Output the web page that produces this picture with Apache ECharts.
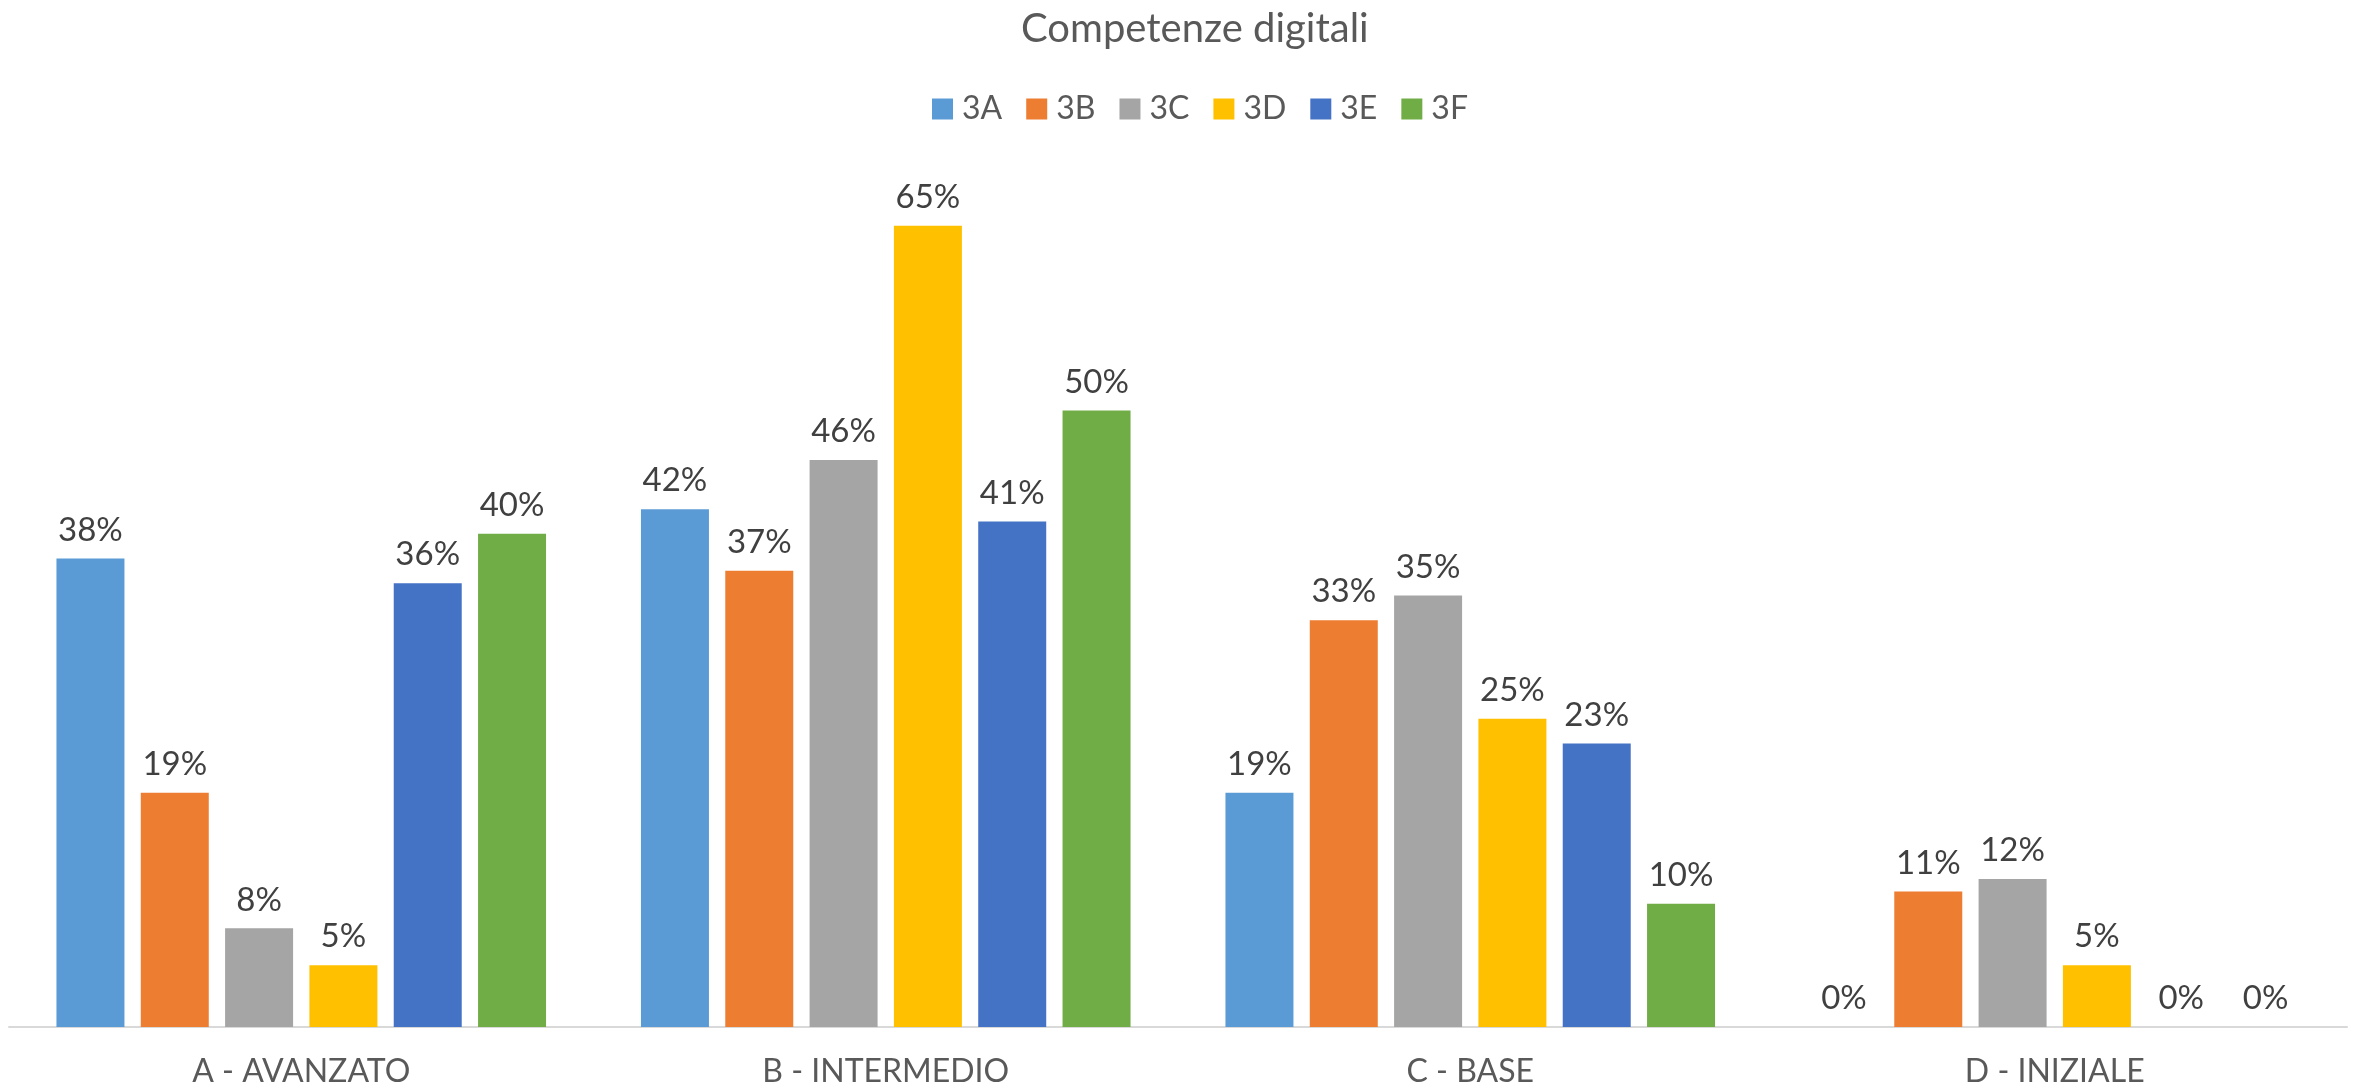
<!DOCTYPE html>
<html>
<head>
<meta charset="utf-8">
<script src="https://cdn.jsdelivr.net/npm/echarts@6/dist/echarts.min.js"></script>
<style>
  html, body { margin: 0; padding: 0; background: #fff; }
  #chart { width: 2356px; height: 1091px; }
</style>
</head>
<body>
<div id="chart"></div>
<script>
// dati
var categorie = ['A - AVANZATO', 'B - INTERMEDIO', 'C - BASE', 'D - INIZIALE'];
var classi = ['3A', '3B', '3C', '3D', '3E', '3F'];
var dati3A = [38, 42, 19, 0];
var dati3B = [19, 37, 33, 11];
var dati3C = [8, 46, 35, 12];
var dati3D = [5, 65, 25, 5];
var dati3E = [36, 41, 23, 0];
var dati3F = [40, 50, 10, 0];
var colori = ['#5b9bd5', '#ed7d31', '#a5a5a5', '#ffc000', '#4472c4', '#70ad47'];

var serieDati = [dati3A, dati3B, dati3C, dati3D, dati3E, dati3F];
var font = 'Lato';
var titolo = 'Competenze digitali';

// il titolo nell'originale è un po' spostato a destra del centro
var ctx = document.createElement('canvas').getContext('2d');
ctx.font = '40px Lato';
var larghezzaTitolo = ctx.measureText(titolo).width;

var chart = echarts.init(document.getElementById('chart'));
var serie = [];
for (var i = 0; i < classi.length; i++) {
    serie.push({
        name: classi[i],
        type: 'bar',
        barWidth: 68,
        barGap: '24%',
        data: serieDati[i],
        itemStyle: { color: colori[i] },
        label: {
            show: true,
            position: 'top',
            distance: 12,
            formatter: '{c}%',
            color: '#404040',
            fontFamily: font,
            fontSize: 33
        }
    });
}

option = {
    animation: false,
    backgroundColor: '#ffffff',
    title: {
        text: titolo,
        left: Math.round(1190 - larghezzaTitolo / 2),
        top: 4,
        textStyle: {
            color: '#595959',
            fontFamily: font,
            fontWeight: 'normal',
            fontSize: 40
        }
    },
    legend: {
        data: classi,
        top: 88,
        left: 927,
        icon: 'rect',
        itemWidth: 21,
        itemHeight: 21,
        itemGap: 24,
        textStyle: {
            color: '#595959',
            fontFamily: font,
            fontSize: 32,
            padding: [0, 0, 0, 4]
        }
    },
    grid: {
        left: 9,
        right: 9,
        top: 164,
        bottom: 64
    },
    xAxis: {
        type: 'category',
        data: categorie,
        axisTick: { show: false },
        axisLine: { lineStyle: { color: '#d9d9d9', width: 2 } },
        axisLabel: {
            margin: 29,
            color: '#595959',
            fontFamily: font,
            fontSize: 32
        }
    },
    yAxis: {
        type: 'value',
        min: 0,
        max: 70,
        show: false
    },
    series: serie
};
chart.setOption(option);
</script>
</body>
</html>
